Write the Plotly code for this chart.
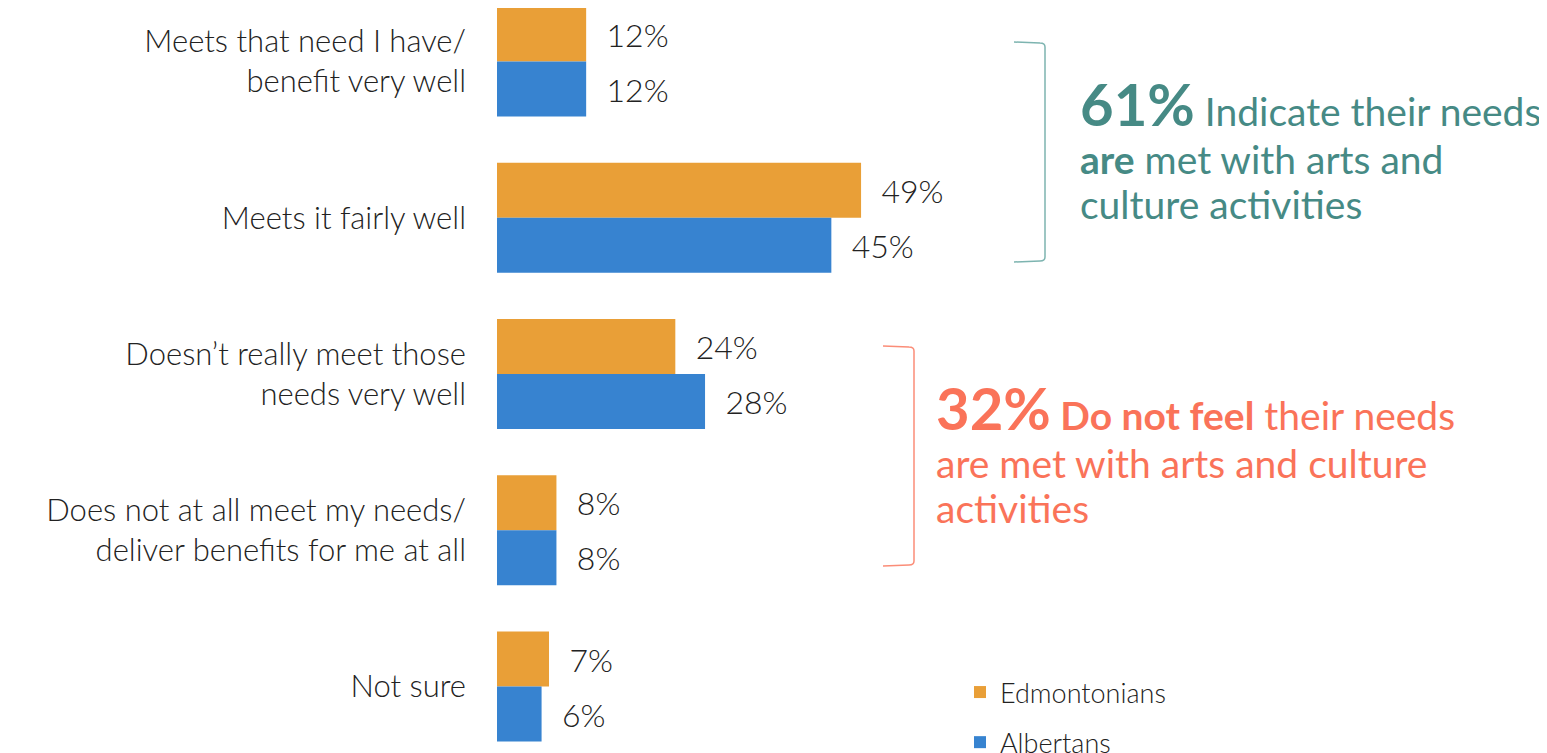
import plotly.graph_objects as go

categories = [
    "Meets that need I have/<br>benefit very well",
    "Meets it fairly well",
    "Doesn’t really meet those<br>needs very well",
    "Does not at all meet my needs/<br>deliver benefits for me at all",
    "Not sure",
]
edmontonians = [12, 49, 24, 8, 7]
albertans = [12, 45, 28, 8, 6]
series_names = ["Edmontonians", "Albertans"]

W, H = 1547, 753
OFF = 8  # default page body margin in the exported HTML
L = 497 - OFF
PX_PER_PCT = 7.43
FONT = "Lato"
TEXT_COLOR = "#222222"
ORANGE = "#E99F37"
BLUE = "#3783D0"
TEAL = "#468A85"
TEAL_LINE = "#7DB4B0"
SALMON = "#FA7359"
SALMON_LINE = "#FB8D78"


def px(x):
    return (x - OFF - L) / (W - L)


def py(y):
    return 1 - (y - OFF) / H


fig = go.Figure()
for name, vals, col in [(series_names[0], edmontonians, ORANGE), (series_names[1], albertans, BLUE)]:
    fig.add_trace(go.Bar(
        y=categories, x=vals, orientation="h", name=name,
        marker=dict(color=col, line=dict(width=0)),
        text=[f"{v}%" for v in vals],
        texttemplate="\u00a0\u00a0%{text}",
        textposition="outside", cliponaxis=False,
        textfont=dict(family=FONT, size=32, color=TEXT_COLOR, weight=300),
        legendgroup=name,
    ))

# y range: group centers at page pixel 61.5 + 156.25*i
c0 = 61.5 - OFF
top_i = -c0 / 156.25
bot_i = (H - c0) / 156.25

fig.update_layout(
    width=W, height=H,
    margin=dict(l=L, r=0, t=0, b=0, autoexpand=False),
    paper_bgcolor="white", plot_bgcolor="white",
    barmode="group", bargap=0.296, bargroupgap=0,
    font=dict(family=FONT, color=TEXT_COLOR),
    xaxis=dict(range=[0, (W - L) / PX_PER_PCT], visible=False, showgrid=False,
               zeroline=False, automargin=False),
    yaxis=dict(
        type="category", range=[bot_i, top_i], showgrid=False, zeroline=False,
        showline=False, ticks="", ticklabelstandoff=30, automargin=False,
        tickfont=dict(family=FONT, size=31, color=TEXT_COLOR, weight=300),
        categoryorder="array", categoryarray=categories,
    ),
    legend=dict(
        x=px(960), y=py(668), xanchor="left", yanchor="top",
        traceorder="grouped", tracegroupgap=12,
        font=dict(family=FONT, size=27, color=TEXT_COLOR, weight=300),
        itemwidth=30, bgcolor="rgba(0,0,0,0)",
    ),
    showlegend=True,
)


def bracket(x_end, x_v, y0, y1, color):
    path = "M {},{} L {},{} Q {},{} {},{} L {},{} Q {},{} {},{} L {},{}".format(
        px(x_end), py(y0),
        px(x_v - 5), py(y0 + 1),
        px(x_v), py(y0 + 1), px(x_v), py(y0 + 5),
        px(x_v), py(y1 - 5),
        px(x_v), py(y1 - 1), px(x_v - 5), py(y1 - 1),
        px(x_end), py(y1),
    )
    fig.add_shape(type="path", path=path, xref="paper", yref="paper",
                  line=dict(color=color, width=1.5))


bracket(1014, 1045, 42, 262, TEAL_LINE)
bracket(883, 914, 346, 566, SALMON_LINE)


def note(x, y, txt, color):
    fig.add_annotation(x=px(x), y=py(y), xref="paper", yref="paper",
                       xanchor="left", yanchor="middle", showarrow=False,
                       text=txt, font=dict(family=FONT, size=39, color=color),
                       align="left")


note(1078, 103, "<b><span style='font-size:58px'>61%</span></b> Indicate their needs", TEAL)
note(1078, 159, "<b>are</b> met with arts and", TEAL)
note(1078, 204, "culture activities", TEAL)

note(934, 407, "<b><span style='font-size:58px'>32%</span> Do not feel</b> their needs", SALMON)
note(934, 463, "are met with arts and culture", SALMON)
note(934, 508, "activities", SALMON)

fig.write_html("out.html")
